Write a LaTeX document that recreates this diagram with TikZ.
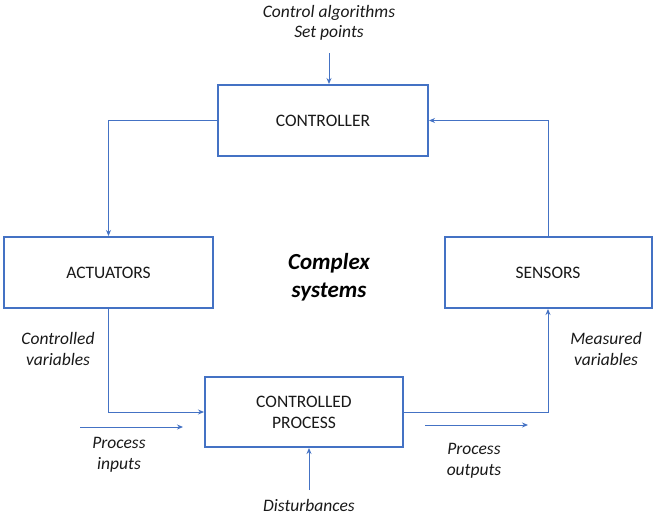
\documentclass[tikz,border=0pt]{standalone}
\usepackage{fontspec}
\setmainfont{Carlito}
\usetikzlibrary{arrows.meta}
\definecolor{lineblue}{RGB}{68,114,196}
\begin{document}
\begin{tikzpicture}[x=1pt,y=-1pt,
  block/.style={draw=lineblue, line width=2pt, rectangle, text=black!90,
    font=\fontsize{17.5}{21}\selectfont, inner sep=0pt},
  link/.style={draw=lineblue, line width=0.9pt, -{Stealth[length=6pt,width=5pt]}},
  note/.style={font=\fontsize{17.5}{20.5}\selectfont\itshape, align=center, text=black!90}]
\useasboundingbox (0,0) rectangle (653,514);

% blocks
\node[block, minimum width=210pt, minimum height=71pt] (ctrl) at (323,120.5) {CONTROLLER};
\node[block, minimum width=209pt, minimum height=71pt] (act) at (108.5,272.5) {ACTUATORS};
\node[block, minimum width=207pt, minimum height=71pt] (sens) at (548,272.5) {SENSORS};
\node[block, minimum width=198pt, minimum height=70pt, align=center] (proc) at (304,412) {CONTROLLED\\PROCESS};

% centre title
\node[font=\fontsize{23}{28}\selectfont\bfseries\itshape, align=center] (title) at (329,277) {Complex\\systems};

% labels
\node[note] (setp) at (329,23) {Control algorithms\\Set points};
\node[note] (cvar) at (58,349) {Controlled\\variables};
\node[note] (mvar) at (606,349) {Measured\\variables};
\node[note] (pin) at (119,455) {Process\\inputs};
\node[note] (pout) at (474,461) {Process\\outputs};
\node[note] (dist) at (309,505) {Disturbances};

% feedback loop
\coordinate (spt) at (329,53);
\draw[link] (spt) -- (spt |- ctrl.north);
\draw[link] (ctrl.west) -| (act.north);
\draw[link] (sens.north) |- (ctrl.east);
\draw[link] (act.south) |- (proc.west);
\draw[link] (proc.east) -| (sens.south);

% process inputs, outputs and disturbances
\coordinate (in1) at (80,427);
\coordinate (in2) at (183,427);
\coordinate (out1) at (425,425);
\coordinate (out2) at (528,425);
\coordinate (dst) at (309,490);
\draw[link] (in1) -- (in2);
\draw[link] (out1) -- (out2);
\draw[link] (dst) -- (dst |- proc.south);
\end{tikzpicture}
\end{document}
